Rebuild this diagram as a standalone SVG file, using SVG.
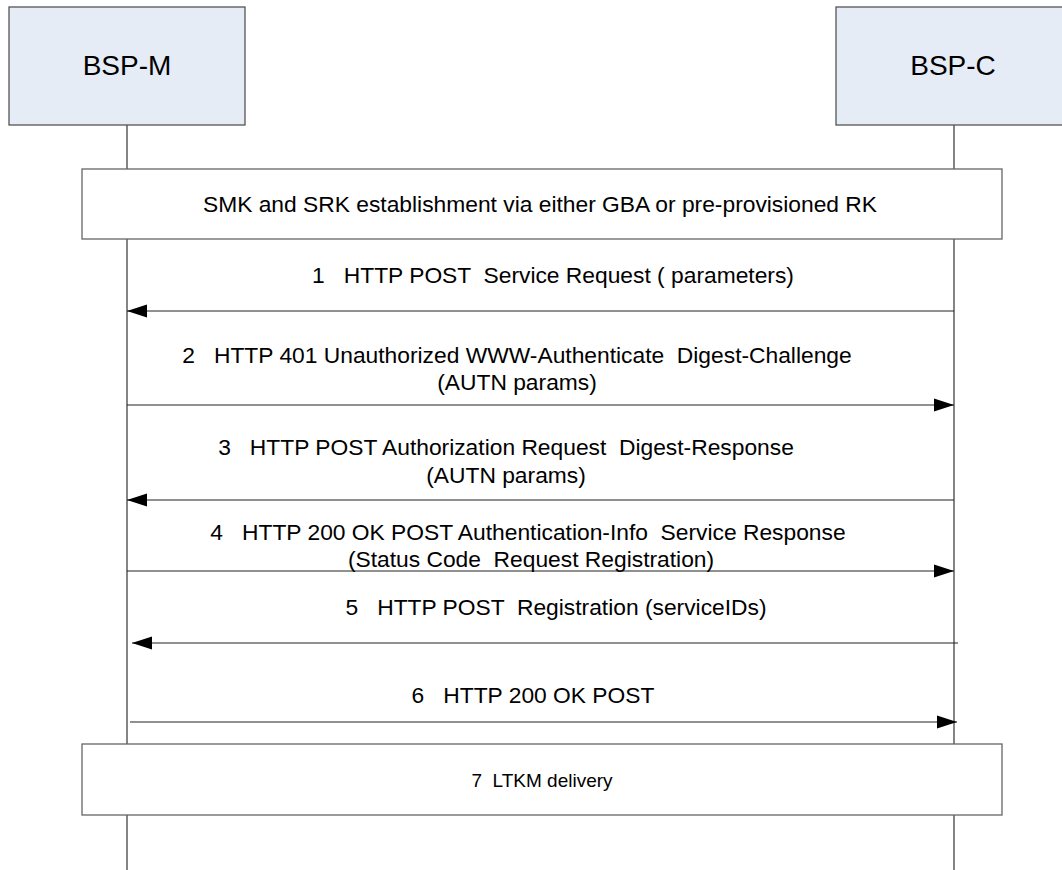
<svg xmlns="http://www.w3.org/2000/svg" width="1062" height="870" viewBox="0 0 1062 870">
<style>
.actor{fill:#E6ECF6;stroke:#555;stroke-width:1.3}
.box{fill:#fff;stroke:#666;stroke-width:1.3}
.life{stroke:#444;stroke-width:1.3;fill:none}
.msg{stroke:#222;stroke-width:1.2;fill:none}
.t{font-family:"Liberation Sans",Arial,sans-serif;font-size:22.8px;fill:#000;text-anchor:middle}
.big{font-size:28px}
.small{font-size:19px}
</style>
<defs>
<marker id="ah" markerUnits="userSpaceOnUse" markerWidth="20" markerHeight="14" viewBox="0 0 20 14" refX="20" refY="7" orient="auto">
<path d="M0,0.5 L20,7 L0,13.5 Z" fill="#000"/>
</marker>
</defs>
<rect width="1062" height="870" fill="#fff"/>
<g id="lifelines">
<path class="life" d="M127,125 V169 M127,239 V744 M127,815 V870"/>
<path class="life" d="M954,125 V169 M954,239 V744 M954,815 V870"/>
</g>
<g id="bsp-m">
<rect class="actor" x="9" y="7" width="236" height="118"/>
<text class="t big" x="127" y="75">BSP-M</text>
</g>
<g id="bsp-c">
<rect class="actor" x="836" y="7" width="236" height="118"/>
<text class="t big" x="953" y="75">BSP-C</text>
</g>
<g id="smk">
<rect class="box" x="82" y="169" width="920" height="70"/>
<text class="t" x="540" y="212">SMK and SRK establishment via either GBA or pre-provisioned RK</text>
</g>
<g id="ltkm">
<rect class="box" x="82" y="744" width="920" height="71"/>
<text class="t small" x="542" y="787" xml:space="preserve">7  LTKM delivery</text>
</g>
<g id="connectors">
<line class="msg" x1="954" y1="311" x2="127" y2="311" marker-end="url(#ah)"/>
<line class="msg" x1="127" y1="405" x2="954" y2="405" marker-end="url(#ah)"/>
<line class="msg" x1="954" y1="500" x2="127" y2="500" marker-end="url(#ah)"/>
<line class="msg" x1="127" y1="571" x2="954" y2="571" marker-end="url(#ah)"/>
<line class="msg" x1="958" y1="643" x2="132" y2="643" marker-end="url(#ah)" stroke="#555"/>
<line class="msg" x1="130" y1="722" x2="957" y2="722" marker-end="url(#ah)"/>
</g>
<g id="labels">
<text class="t" x="553" y="283" xml:space="preserve">1   HTTP POST  Service Request ( parameters)</text>
<text class="t" x="517" y="363" xml:space="preserve">2   HTTP 401 Unauthorized WWW-Authenticate  Digest-Challenge</text>
<text class="t" x="517" y="390">(AUTN params)</text>
<text class="t" x="506" y="455" xml:space="preserve">3   HTTP POST Authorization Request  Digest-Response</text>
<text class="t" x="506" y="483">(AUTN params)</text>
<text class="t" x="528" y="540" xml:space="preserve">4   HTTP 200 OK POST Authentication-Info  Service Response</text>
<text class="t" x="531" y="567" xml:space="preserve">(Status Code  Request Registration)</text>
<text class="t" x="556" y="615" xml:space="preserve">5   HTTP POST  Registration (serviceIDs)</text>
<text class="t" x="533" y="703" xml:space="preserve">6   HTTP 200 OK POST</text>
</g>
</svg>
